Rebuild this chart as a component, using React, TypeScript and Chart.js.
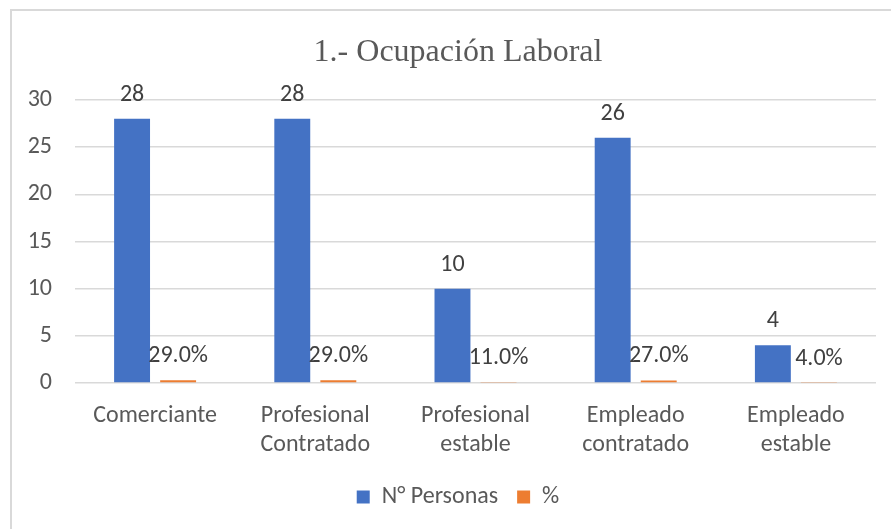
import React, { useEffect, useRef } from "react";
import { Chart, registerables } from "chart.js";

Chart.register(...registerables);

const categories: (string | string[])[] = [
  "Comerciante",
  ["Profesional", "Contratado"],
  ["Profesional", "estable"],
  ["Empleado", "contratado"],
  ["Empleado", "estable"],
];
const personas = [28, 28, 10, 26, 4];
const porcentaje = [0.29, 0.29, 0.11, 0.27, 0.04];
const seriesNames = ["N° Personas", "%"];
const titleText = "1.- Ocupación Laboral";

const SANS = "Carlito, Calibri, Lato, sans-serif";
const FS = 24;

const labelPlugin = {
  id: "barLabels",
  afterDatasetsDraw(chart: any) {
    const ctx = chart.ctx;
    ctx.save();
    ctx.font = `${FS}px ${SANS}`;
    ctx.fillStyle = "#404040";
    ctx.textAlign = "center";
    ctx.textBaseline = "middle";
    chart.data.datasets.forEach((ds: any, di: number) => {
      const meta = chart.getDatasetMeta(di);
      meta.data.forEach((el: any, i: number) => {
        const v = ds.data[i];
        const txt = di === 1 ? (v * 100).toFixed(1) + "%" : String(v);
        ctx.fillText(txt, el.x, el.y - 24);
      });
    });
    ctx.restore();
  },
};

export default function App() {
  const ref = useRef<HTMLCanvasElement | null>(null);
  useEffect(() => {
    if (!ref.current) return;
    const chart = new Chart(ref.current, {
      type: "bar",
      data: {
        labels: categories as any,
        datasets: [
          {
            label: seriesNames[0],
            data: personas,
            backgroundColor: "#4472C4",
            categoryPercentage: 0.575,
            barPercentage: 0.78,
          },
          {
            label: seriesNames[1],
            data: porcentaje,
            backgroundColor: "#ED7D31",
            categoryPercentage: 0.575,
            barPercentage: 0.78,
          },
        ],
      },
      options: {
        animation: false,
        responsive: false,
        maintainAspectRatio: false,
        layout: { padding: { left: 0, right: 0, top: 0, bottom: 10 } },
        plugins: {
          title: {
            display: true,
            text: titleText,
            color: "#595959",
            font: { family: "'Liberation Serif', 'Times New Roman', serif", size: 32, weight: "normal" },
            padding: { top: 33, bottom: 28.6 },
          },
          legend: {
            position: "bottom",
            labels: {
              color: "#595959",
              font: { family: SANS, size: FS },
              boxWidth: 13,
              boxHeight: 13,
              padding: 19,
            },
          },
          tooltip: { enabled: false },
        },
        scales: {
          x: {
            grid: { display: false, drawTicks: false },
            border: { display: false },
            ticks: {
              color: "#595959",
              font: { family: SANS, size: FS, lineHeight: 1.21 },
              padding: 18,
              maxRotation: 0,
              autoSkip: false,
            },
            afterFit(scale: any) {
              scale.height = 83;
            },
          },
          y: {
            min: 0,
            max: 30,
            grid: { color: "#d9d9d9", lineWidth: 1.5, drawTicks: false },
            border: { display: false },
            ticks: {
              stepSize: 5,
              color: "#595959",
              font: { family: SANS, size: FS },
              padding: 23,
            },
            afterFit(scale: any) {
              scale.width = 75;
            },
          },
          spacer: {
            type: "linear",
            position: "right",
            display: true,
            grid: { display: false, drawTicks: false },
            border: { display: false },
            ticks: { display: false },
            afterFit(scale: any) {
              scale.width = 40;
            },
          },
        },
      },
      plugins: [labelPlugin],
    } as any);
    return () => chart.destroy();
  }, []);

  return (
    <div
      style={{
        position: "fixed",
        left: 0,
        top: 0,
        width: 891,
        height: 529,
        overflow: "hidden",
        background: "#fff",
      }}
    >
      <div
        style={{
          position: "absolute",
          left: 10,
          top: 9,
          width: 920,
          height: 600,
          border: "2px solid #d9d9d9",
          boxSizing: "border-box",
        }}
      />
      <canvas ref={ref} width={916} height={529} style={{ position: "absolute", left: 0, top: 0 }} />
    </div>
  );
}
